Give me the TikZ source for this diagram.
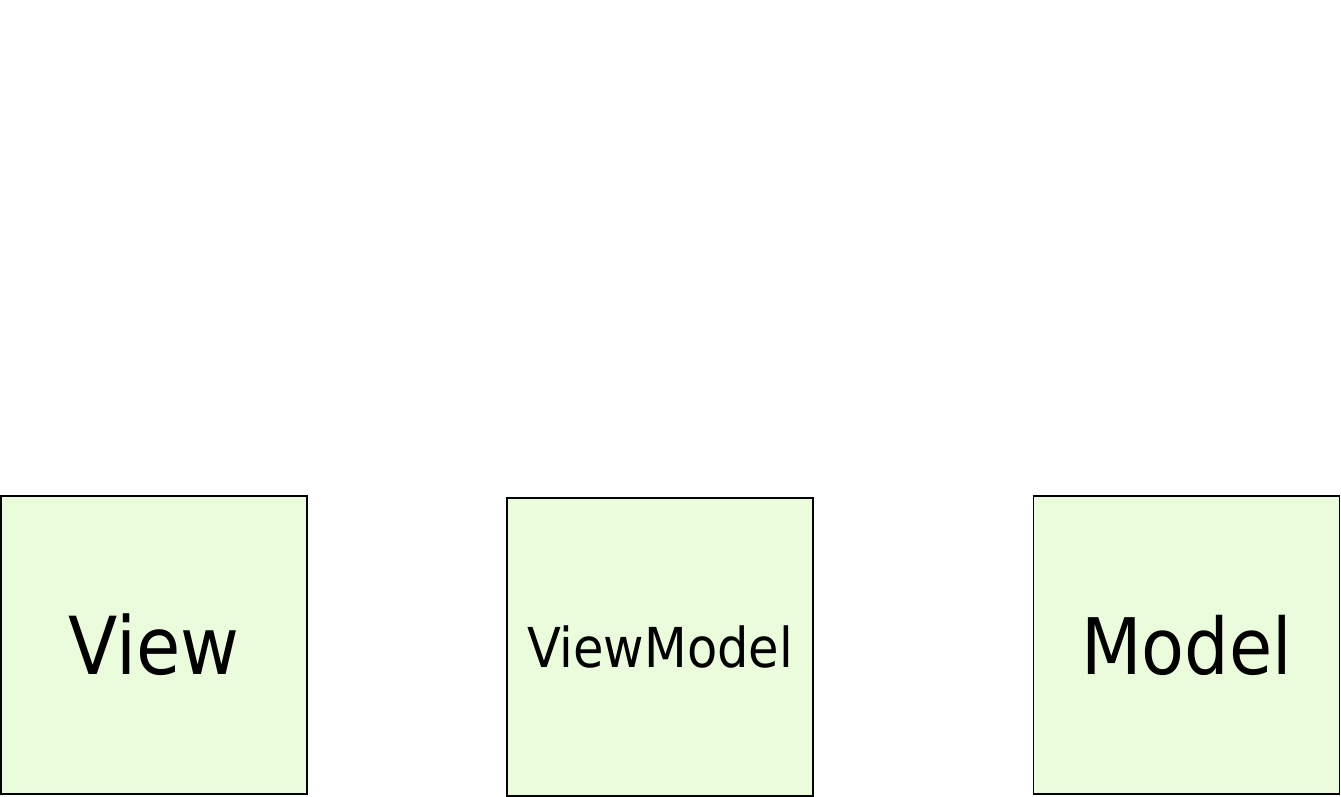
\documentclass[tikz,border=0pt]{standalone}
\usepackage{fontspec}
\setmainfont{DejaVu Sans Condensed}
\usepackage{xcolor}
\usepackage{tikz}
\usetikzlibrary{positioning}

\definecolor{boxgreen}{RGB}{234,252,219}

\begin{document}
\begin{tikzpicture}[x=1pt, y=-1pt,
    layerbox/.style={draw=black, line width=1.5pt, fill=boxgreen, rectangle,
        minimum width=306pt, minimum height=298pt, inner sep=0pt}]
    % Canvas
    \useasboundingbox (0,0) rectangle (1341,797);

    % Layers
    \node[layerbox, font=\fontsize{80}{80}\selectfont] (view) at (154,645) {View};
    \node[layerbox, font=\fontsize{55}{55}\selectfont] (viewmodel) at (660,647) {ViewModel};
    \node[layerbox, font=\fontsize{78}{78}\selectfont] (model) at (1186.5,645) {Model};
\end{tikzpicture}
\end{document}
